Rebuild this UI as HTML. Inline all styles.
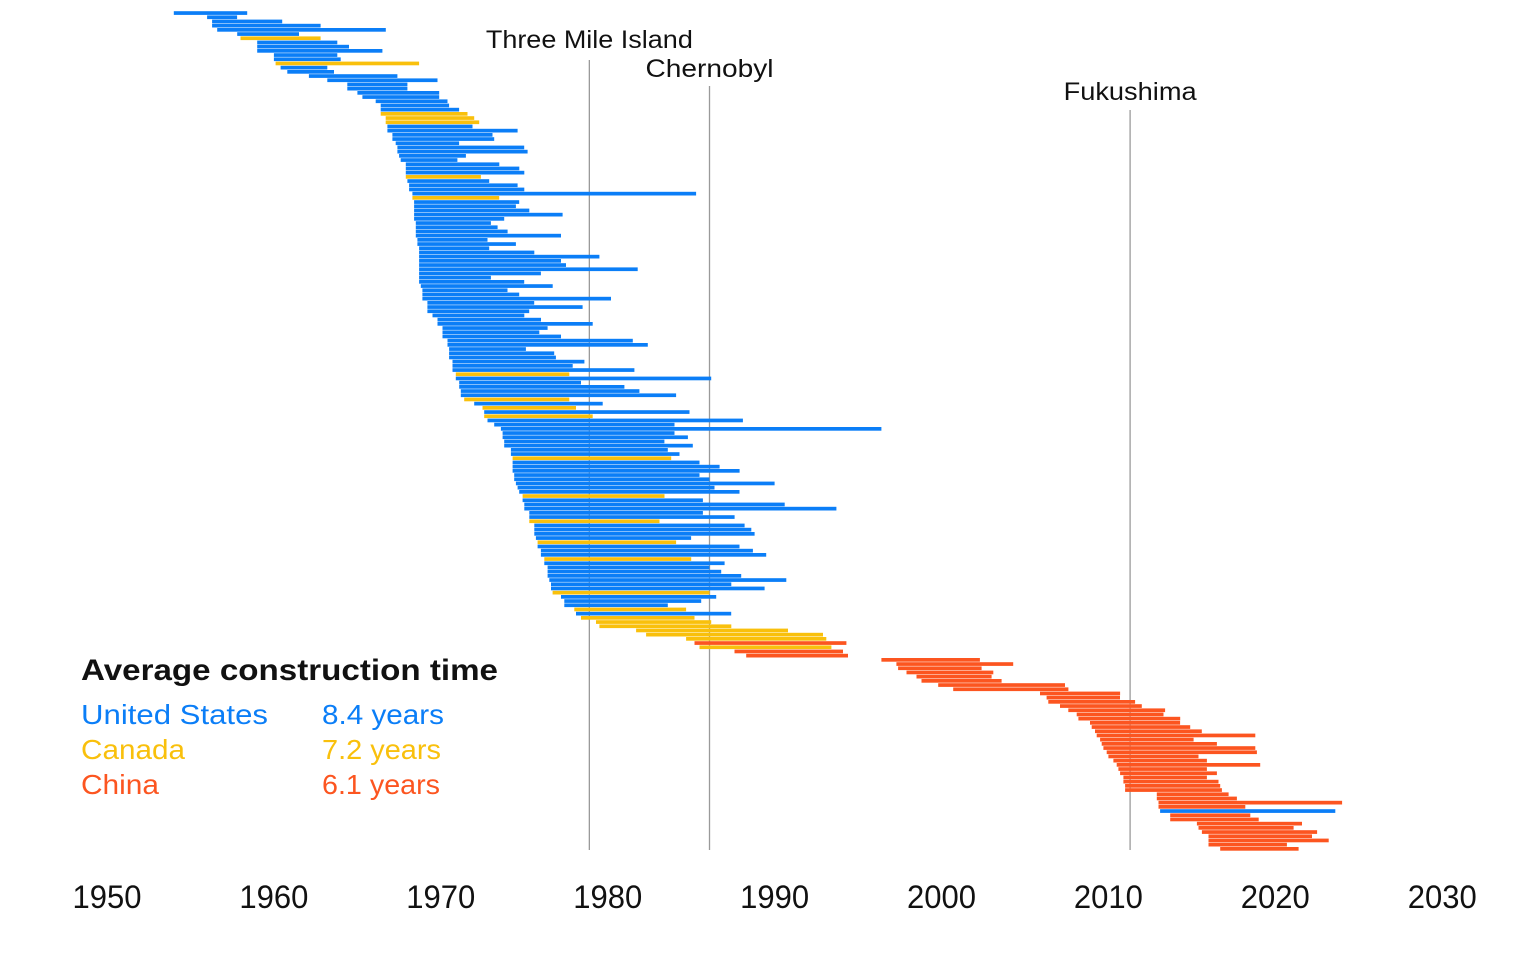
<!DOCTYPE html>
<html><head><meta charset="utf-8">
<style>
html,body{margin:0;padding:0;background:#fff;}
svg{display:block;font-family:"Liberation Sans",sans-serif;}
</style></head>
<body>
<svg id="chart" width="1536" height="971" viewBox="0 0 1536 971" xmlns="http://www.w3.org/2000/svg">
<g id="events"></g>
<g id="bars"></g>
<g id="xaxis"></g>
<g>
<text x="81" y="680" font-size="30" font-weight="bold" fill="#111" textLength="417" lengthAdjust="spacingAndGlyphs">Average construction time</text>
<text x="81" y="724" font-size="28" fill="#0b7ef7" textLength="187" lengthAdjust="spacingAndGlyphs">United States</text>
<text x="322" y="724" font-size="28" fill="#0b7ef7" textLength="122" lengthAdjust="spacingAndGlyphs">8.4 years</text>
<text x="81" y="759" font-size="28" fill="#f9c00c" textLength="104" lengthAdjust="spacingAndGlyphs">Canada</text>
<text x="322" y="759" font-size="28" fill="#f9c00c" textLength="119" lengthAdjust="spacingAndGlyphs">7.2 years</text>
<text x="81" y="794" font-size="28" fill="#fc5520" textLength="78" lengthAdjust="spacingAndGlyphs">China</text>
<text x="322" y="794" font-size="28" fill="#fc5520" textLength="118" lengthAdjust="spacingAndGlyphs">6.1 years</text>
</g>
</svg>
<script>
const startYears=[1954.0,1956.0,1956.3,1956.3,1956.6,1957.8,1958.0,1959.0,1959.0,1959.0,1960.0,1960.0,1960.1,1960.4,1960.8,1962.1,1963.2,1964.4,1964.4,1965.0,1965.3,1966.1,1966.4,1966.4,1966.4,1966.7,1966.7,1966.8,1966.8,1967.1,1967.1,1967.3,1967.4,1967.4,1967.5,1967.6,1967.9,1967.9,1967.9,1967.9,1968.0,1968.1,1968.1,1968.3,1968.3,
1968.4,1968.4,1968.4,1968.4,1968.4,1968.5,1968.5,1968.5,1968.5,1968.6,1968.6,1968.7,1968.7,1968.7,1968.7,1968.7,1968.7,1968.7,1968.7,1968.7,1968.8,1968.9,1968.9,1968.9,1969.2,1969.2,1969.2,1969.5,1969.8,1969.8,1970.1,1970.1,1970.1,1970.4,1970.4,1970.5,1970.5,1970.5,1970.7,1970.7,1970.7,1970.9,1970.9,1971.1,1971.1,1971.2,1971.2,1971.4,1972.0,1972.5,1972.6,1972.6,1972.8,
1973.2,1973.6,1973.7,1973.7,1973.8,1973.8,1974.2,1974.2,1974.3,1974.3,1974.3,1974.3,1974.4,1974.4,1974.5,1974.6,1974.7,1974.9,1974.9,1975.0,1975.0,1975.3,1975.3,1975.3,1975.6,1975.6,1975.6,1975.7,1975.8,1975.8,1976.0,1976.0,1976.2,1976.2,1976.4,1976.4,1976.4,1976.5,1976.6,1976.6,1976.7,1977.2,1977.4,1977.4,1978.0,1978.1,1978.4,1979.3,1979.5,1981.7,1982.3,1984.7,1985.2,1985.5,1987.6,1988.3,
1996.4,1997.3,1997.4,1997.9,1998.5,1998.8,1999.8,2000.7,2005.9,2006.3,2006.4,2007.1,2007.6,2008.1,2008.2,2008.9,2009.0,2009.2,2009.3,2009.5,2009.6,2009.7,2009.9,2010.0,2010.3,2010.5,2010.6,2010.7,2010.9,2010.9,2011.0,2011.0,2012.9,2012.9,2013.0,2013.0,2013.1,2013.7,2013.7,2015.3,2015.4,2015.6,2016.0,2016.0,2016.0,2016.7];
const endYears=[1958.4,1957.8,1960.5,1962.8,1966.7,1961.5,1962.8,1963.8,1964.5,1966.5,1963.8,1964.0,1968.7,1963.2,1963.6,1967.4,1969.8,1968.0,1968.0,1969.9,1969.9,1970.4,1970.5,1971.1,1971.6,1972.0,1972.3,1971.9,1974.6,1973.1,1973.2,1971.1,1975.0,1975.2,1971.5,1971.0,1973.5,1974.7,1975.0,1972.4,1972.9,1974.6,1975.0,1985.3,1973.5,
1974.7,1974.5,1975.3,1977.3,1973.8,1973.0,1973.4,1974.0,1977.2,1972.8,1974.5,1972.9,1975.6,1979.5,1977.2,1977.5,1981.8,1976.0,1973.0,1975.0,1976.7,1974.0,1974.7,1980.2,1975.6,1978.5,1975.3,1975.0,1976.0,1979.1,1976.4,1975.9,1977.2,1981.5,1982.4,1975.1,1976.8,1976.9,1978.6,1977.9,1981.6,1977.7,1986.2,1978.4,1981.0,1981.9,1984.1,1977.7,1979.7,1978.1,1984.9,1979.1,1988.1,
1984.0,1996.4,1984.0,1984.8,1983.4,1985.1,1983.6,1984.3,1983.8,1985.5,1986.7,1987.9,1985.5,1986.1,1990.0,1986.4,1987.9,1983.4,1985.7,1990.6,1993.7,1985.7,1987.6,1983.1,1988.2,1988.6,1988.8,1985.0,1984.1,1987.9,1988.7,1989.5,1985.0,1987.0,1986.1,1986.8,1988.0,1990.7,1987.4,1989.4,1986.1,1986.5,1985.6,1983.6,1984.7,1987.4,1985.2,1986.2,1987.4,1990.8,1992.9,1993.1,1994.3,1993.4,1994.1,1994.4,
2002.3,2004.3,2002.4,2003.1,2003.0,2003.6,2007.4,2007.6,2010.7,2010.7,2011.6,2012.0,2013.4,2013.3,2014.3,2014.3,2014.9,2015.6,2018.8,2015.1,2016.5,2018.8,2018.9,2015.4,2015.9,2019.1,2015.9,2016.5,2015.9,2016.6,2016.7,2016.8,2017.2,2017.7,2024.0,2018.2,2023.6,2018.5,2019.0,2021.6,2021.1,2022.5,2022.2,2023.2,2020.7,2021.4];
const countries=(
"UUUUUU"+"C"+"UUUUU"+"C"+"UUUUUUUUUUU"+"CCC"+"UUUUUUUUUUUU"+"C"+"UUUU"+"C"+
"U".repeat(41)+"C"+"UUUUU"+"C"+"U"+"C"+"U"+"C"+"U"+
"UUUUUUUU"+"C"+"UUUUUUUU"+"C"+"UUUUU"+"C"+"UUUU"+"C"+"UUU"+"C"+"UUUUUUU"+"C"+"UUU"+"C"+"U"+"CCCCCC"+"N"+"C"+"NN"+
"N".repeat(36)+"U"+"N".repeat(9)).split("");
const eventNames=["Three Mile Island","Chernobyl","Fukushima"];
const eventYears=[1978.9,1986.1,2011.3];
const tickYears=[1950,1960,1970,1980,1990,2000,2010,2020,2030];
const tickLabels=["1950","1960","1970","1980","1990","2000","2010","2020","2030"];

const NS="http://www.w3.org/2000/svg";
const colors={U:"#0b7ef7",C:"#f9c00c",N:"#fc5520"};
const names={U:"us",C:"canada",N:"china"};
function xScale(y){return 107+(y-1950)*16.69;}
function yRow(i){return 13+i*4.2;}
const barsG=document.getElementById("bars");
for(let i=0;i<startYears.length;i++){
  const r=document.createElementNS(NS,"rect");
  const x0=xScale(startYears[i]),x1=xScale(endYears[i]);
  r.setAttribute("x",x0.toFixed(1));
  r.setAttribute("y",(yRow(i)-1.8).toFixed(1));
  r.setAttribute("width",Math.max(1,x1-x0).toFixed(1));
  r.setAttribute("height","3.7");
  r.setAttribute("fill",colors[countries[i]]||colors.U);
  
  
  barsG.appendChild(r);
}
const evG=document.getElementById("events");
const evTop=[60,86,110];
const evLabelY=[48,77,100];
const evLabelW=[207,128,133];
for(let i=0;i<eventYears.length;i++){
  const x=xScale(eventYears[i]);
  const l=document.createElementNS(NS,"line");
  l.setAttribute("x1",x);l.setAttribute("x2",x);
  l.setAttribute("y1",evTop[i]);l.setAttribute("y2",850);
  l.setAttribute("stroke","#9a9a9a");l.setAttribute("stroke-width","1.3");
  
  
  evG.appendChild(l);
  const t=document.createElementNS(NS,"text");
  t.setAttribute("x",x);t.setAttribute("y",evLabelY[i]);
  t.setAttribute("text-anchor","middle");t.setAttribute("font-size","25");
  t.setAttribute("fill","#111");
  t.setAttribute("textLength",evLabelW[i]);t.setAttribute("lengthAdjust","spacingAndGlyphs");
  t.textContent=eventNames[i];
  
  
  evG.appendChild(t);
}
const axG=document.getElementById("xaxis");
for(let i=0;i<tickYears.length;i++){
  const t=document.createElementNS(NS,"text");
  t.setAttribute("x",xScale(tickYears[i]));t.setAttribute("y",908);
  t.setAttribute("text-anchor","middle");t.setAttribute("font-size","32");
  t.setAttribute("fill","#111");
  t.setAttribute("textLength","69");t.setAttribute("lengthAdjust","spacingAndGlyphs");
  t.textContent=tickLabels[i];
  
  
  axG.appendChild(t);
}
</script>
</body></html>
